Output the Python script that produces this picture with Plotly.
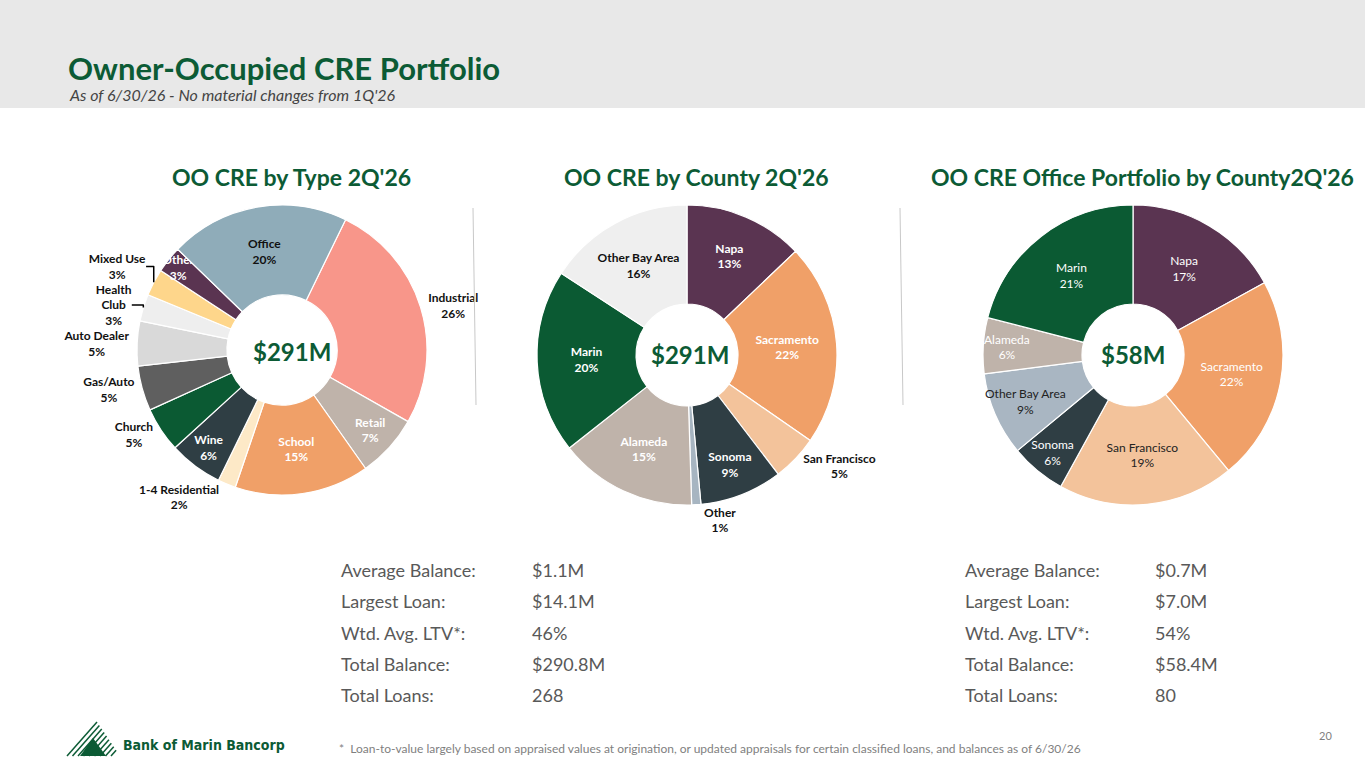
import plotly.graph_objects as go

# ---- data ----
type_labels = ["Industrial", "Retail", "School", "1-4 Residential", "Wine", "Church",
               "Gas/Auto", "Auto Dealer", "Health Club", "Mixed Use", "Other", "Office"]
type_pct = [26, 7, 15, 2, 6, 5, 5, 5, 3, 3, 3, 20]

county_labels = ["Napa", "Sacramento", "San Francisco", "Sonoma", "Other", "Alameda",
                 "Marin", "Other Bay Area"]
county_pct = [13, 22, 5, 9, 1, 15, 20, 16]

office_labels = ["Napa", "Sacramento", "San Francisco", "Sonoma", "Other Bay Area",
                 "Alameda", "Marin"]
office_pct = [17, 22, 19, 6, 9, 6, 21]

stat_names = ["Average Balance:", "Largest Loan:", "Wtd. Avg. LTV*:", "Total Balance:", "Total Loans:"]
stats_all = ["$1.1M", "$14.1M", "46%", "$290.8M", "268"]
stats_office = ["$0.7M", "$7.0M", "54%", "$58.4M", "80"]

GREEN = "#0c5b35"
W, H = 1365, 768
FONT = "Lato"


def px(x):
    return x / W


def py(y):
    return 1 - y / H


type_colors = ["#f8968a", "#bfb3aa", "#f0a068", "#fde9c7", "#2f3e44", "#0b5a33",
               "#5f5f5f", "#d9d9d9", "#eeeeee", "#fed68b", "#5a3451", "#8facb9"]
type_txtcol = ["#111", "white", "white", "#111", "white", "#111",
               "#111", "#111", "#111", "#111", "white", "#111"]
type_pos = ["outside", "inside", "inside", "outside", "inside", "outside",
            "outside", "outside", "outside", "outside", "inside", "inside"]

county_colors = ["#5a3451", "#f0a068", "#f3c39b", "#2f3e44", "#a7b5c1", "#bfb3aa",
                 "#0b5a33", "#efefef"]
county_txtcol = ["white", "white", "#111", "white", "#111", "white", "white", "#111"]
county_pos = ["inside", "inside", "outside", "inside", "outside", "inside", "inside", "inside"]

office_colors = ["#5a3451", "#f0a068", "#f3c39b", "#2f3e44", "#a9b6c2", "#bfb3aa", "#0b5a33"]
office_txtcol = ["white", "white", "#222", "white", "#222", "white", "white"]

fig = go.Figure()


def add_pie(labels, vals, colors, tcol, pos, dom_x, dom_y, hole, rot, bold):
    disp = [l.replace("Health Club", "Health<br>Club") for l in labels]
    tmpl = "<b>%{text}<br>%{value}%</b>" if bold else "%{text}<br>%{value}%"
    fig.add_trace(go.Pie(
        labels=labels, values=vals, text=disp, texttemplate=tmpl,
        textposition=pos, insidetextorientation="horizontal",
        textfont=dict(family=FONT, size=12, color=tcol),
        marker=dict(colors=colors, line=dict(color="white", width=1.2)),
        hole=hole, sort=False, direction="clockwise", rotation=rot,
        domain=dict(x=dom_x, y=dom_y), showlegend=False, hoverinfo="label+percent",
    ))


add_pie(type_labels, type_pct, type_colors, type_txtcol, type_pos,
        [px(137), px(427)], [py(495), py(205)], 0.38, 26, True)
add_pie(county_labels, county_pct, county_colors, county_txtcol, county_pos,
        [px(537), px(837)], [py(505), py(205)], 0.34, 0, True)
add_pie(office_labels, office_pct, office_colors, office_txtcol, "inside",
        [px(983), px(1283)], [py(505), py(205)], 0.34, 0, False)

ann = []


def text(x, y, s, size, color, bold=False, italic=False, xanchor="left", family=FONT):
    if bold:
        s = "<b>" + s + "</b>"
    if italic:
        s = "<i>" + s + "</i>"
    ann.append(dict(x=px(x), y=py(y), xref="paper", yref="paper", text=s, showarrow=False,
                    xanchor=xanchor, yanchor="middle",
                    font=dict(family=family, size=size, color=color)))


# header
text(66, 68, "Owner-Occupied CRE Portfolio", 31, GREEN, bold=True)
text(67, 95, "As of 6/30/26 - No material changes from 1Q'26", 16, "#444", italic=True)

# chart titles
text(291, 177, "OO CRE by Type 2Q'26", 23, GREEN, bold=True, xanchor="center")
text(696, 177, "OO CRE by County 2Q'26", 23, GREEN, bold=True, xanchor="center")
text(1142, 177, "OO CRE Office Portfolio by County2Q'26", 23, GREEN, bold=True, xanchor="center")

# donut centres
text(292, 351, "$291M", 24, GREEN, bold=True, xanchor="center")
text(690, 355, "$291M", 24, GREEN, bold=True, xanchor="center")
text(1133, 355, "$58M", 24, GREEN, bold=True, xanchor="center")

# stats blocks
rows_y = [570, 601, 633, 664, 695]
for yy, name, a, b in zip(rows_y, stat_names, stats_all, stats_office):
    text(339, yy, name, 18, "#595959")
    text(530, yy, a, 18, "#595959")
    text(963, yy, name, 18, "#595959")
    text(1153, yy, b, 18, "#595959")

# footer
text(337, 748, "*  Loan-to-value largely based on appraised values at origination, or updated appraisals "
     "for certain classified loans, and balances as of 6/30/26", 12, "#7f7f7f")
text(1334, 735, "20", 11, "#7f7f7f", xanchor="right")
text(121, 745, "Bank of Marin Bancorp", 14, GREEN, bold=True,
     family="DejaVu Sans Condensed, Roboto Condensed, sans-serif")

shapes = [
    dict(type="rect", xref="paper", yref="paper", x0=0, x1=1, y0=py(108), y1=1,
         fillcolor="#e8e8e8", line=dict(width=0), layer="below"),
    dict(type="line", xref="paper", yref="paper", x0=px(473), y0=py(208), x1=px(476), y1=py(405),
         line=dict(color="#c8c8c8", width=1)),
    dict(type="line", xref="paper", yref="paper", x0=px(900), y0=py(208), x1=px(903), y1=py(405),
         line=dict(color="#c8c8c8", width=1)),
]

# logo mark: stripes parallel to the left edge, cut by the right edge, solid core
shapes.append(dict(type="path", xref="paper", yref="paper",
                   path=f"M {px(80)} {py(756)} L {px(93)} {py(738)} L {px(106)} {py(756)} Z",
                   fillcolor=GREEN, line=dict(width=0)))
for i in range(9):
    x0 = 67 + i * 5.5
    t = (120 - x0) / 53
    shapes.append(dict(type="line", xref="paper", yref="paper",
                       x0=px(x0), y0=py(756), x1=px(x0 + 30 * t), y1=py(756 - 34 * t),
                       line=dict(color=GREEN, width=1.5)))

fig.update_layout(
    width=W, height=H, margin=dict(l=0, r=0, t=0, b=0),
    paper_bgcolor="white", plot_bgcolor="white",
    annotations=ann, shapes=shapes,
    uniformtext=dict(minsize=12, mode="show"),
    font=dict(family=FONT),
)

fig.write_html("out.html", config={"displayModeBar": False},
               post_script="document.body.style.margin='0';document.body.style.overflow='hidden';")
